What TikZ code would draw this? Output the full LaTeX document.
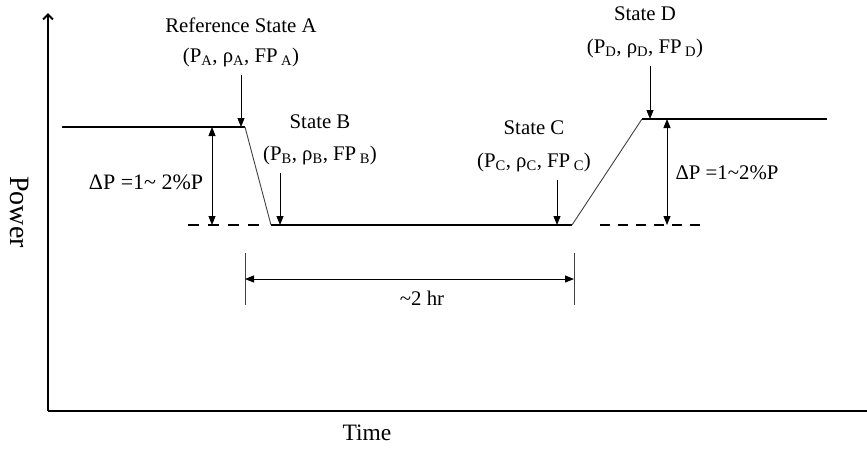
\documentclass[tikz,border=0pt]{standalone}
\usepackage{fontspec}
\setmainfont{Liberation Serif}
\usetikzlibrary{arrows.meta}

\begin{document}
\begin{tikzpicture}[x=1pt,y=-1pt,font=\fontsize{20.8}{24}\selectfont,
  level/.style={line width=2pt},
  ramp/.style={line width=0.9pt,black!75},
  base/.style={line width=2pt,dash pattern=on 10pt off 8pt},
  pin/.style={line width=0.9pt,-{Triangle[length=9pt,width=7pt]},shorten <=5pt},
  span/.style={line width=0.9pt,{Triangle[length=9pt,width=7pt]}-{Triangle[length=9pt,width=7pt]}}]
  \useasboundingbox (0,0) rectangle (867,448);

  % axes
  \coordinate (o)    at (48,411);
  \coordinate (ytop) at (48,13);
  \coordinate (xend) at (867,411);
  \draw[line width=2pt,-{Straight Barb[length=5pt,width=10pt]}] (o) -- (ytop);
  \draw[line width=2pt] (o) -- (xend);
  \node[rotate=-90,font=\fontsize{28}{30}\selectfont] (power) at (20,212) {Power};
  \node[font=\fontsize{23.5}{26}\selectfont] (time) at (367,433) {Time};

  % power history
  \coordinate (a0) at (62,127);
  \coordinate (a)  at (245,127);
  \coordinate (b)  at (271,225);
  \coordinate (c)  at (572,225);
  \coordinate (d)  at (642,119);
  \coordinate (d1) at (827,119);
  \draw[level] (a0)--(a); \draw[ramp] (a)--(b); \draw[level] (b)--(c);
  \draw[ramp] (c)--(d); \draw[level] (d)--(d1);

  \coordinate (bl0) at (188,225); \coordinate (bl1) at (259,225);
  \coordinate (br0) at (600,225); \coordinate (br1) at (700,225);
  \draw[base,dash pattern=on 11pt off 9pt] (bl0)--(bl1); \draw[base] (br0)--(br1);

  % states
  \node (stA) at (241,25)  {Reference State A};
  \node (pA)  at (241,57)  {(P\textsubscript{A}, ρ\textsubscript{A}, FP\,\textsubscript{A})};
  \node (stB) at (320,122) {State B};
  \node (pB)  at (320,155) {(P\textsubscript{B}, ρ\textsubscript{B}, FP\,\textsubscript{B})};
  \node (stC) at (534,128) {State C};
  \node (pC)  at (534,162) {(P\textsubscript{C}, ρ\textsubscript{C}, FP\,\textsubscript{C})};
  \node (stD) at (645,14)  {State D};
  \node (pD)  at (645,48)  {(P\textsubscript{D}, ρ\textsubscript{D}, FP\,\textsubscript{D})};

  \coordinate (tipA) at (241,127);
  \coordinate (tipB) at (280,225);
  \coordinate (tipC) at (557,225);
  \coordinate (tipD) at (650,119);
  \draw[pin] (pA.south -| tipA)--(tipA);
  \draw[pin] (pB.south -| tipB)--(tipB);
  \draw[pin] (pC.south -| tipC)--(tipC);
  \draw[pin] (pD.south -| tipD)--(tipD);

  % power steps
  \node[font=\fontsize{22}{24}\selectfont] (dpA) at (146,182) {ΔP =1\textasciitilde{} 2\%P};
  \node (dpD) at (727,173) {ΔP =1\textasciitilde2\%P};
  \coordinate (dA1) at (212,127); \coordinate (dA2) at (212,225);
  \coordinate (dD1) at (667,119); \coordinate (dD2) at (667,225);
  \draw[span] (dA1)--(dA2);
  \draw[span] (dD1)--(dD2);

  % duration
  \coordinate (h1) at (245,279); \coordinate (h2) at (574,279);
  \draw[black!75] (245,253)--(245,305);
  \draw[black!75] (574,253)--(574,305);
  \draw[span] (h1)--(h2);
  \node (hr) at (422,298) {\textasciitilde2 hr};
\end{tikzpicture}
\end{document}
